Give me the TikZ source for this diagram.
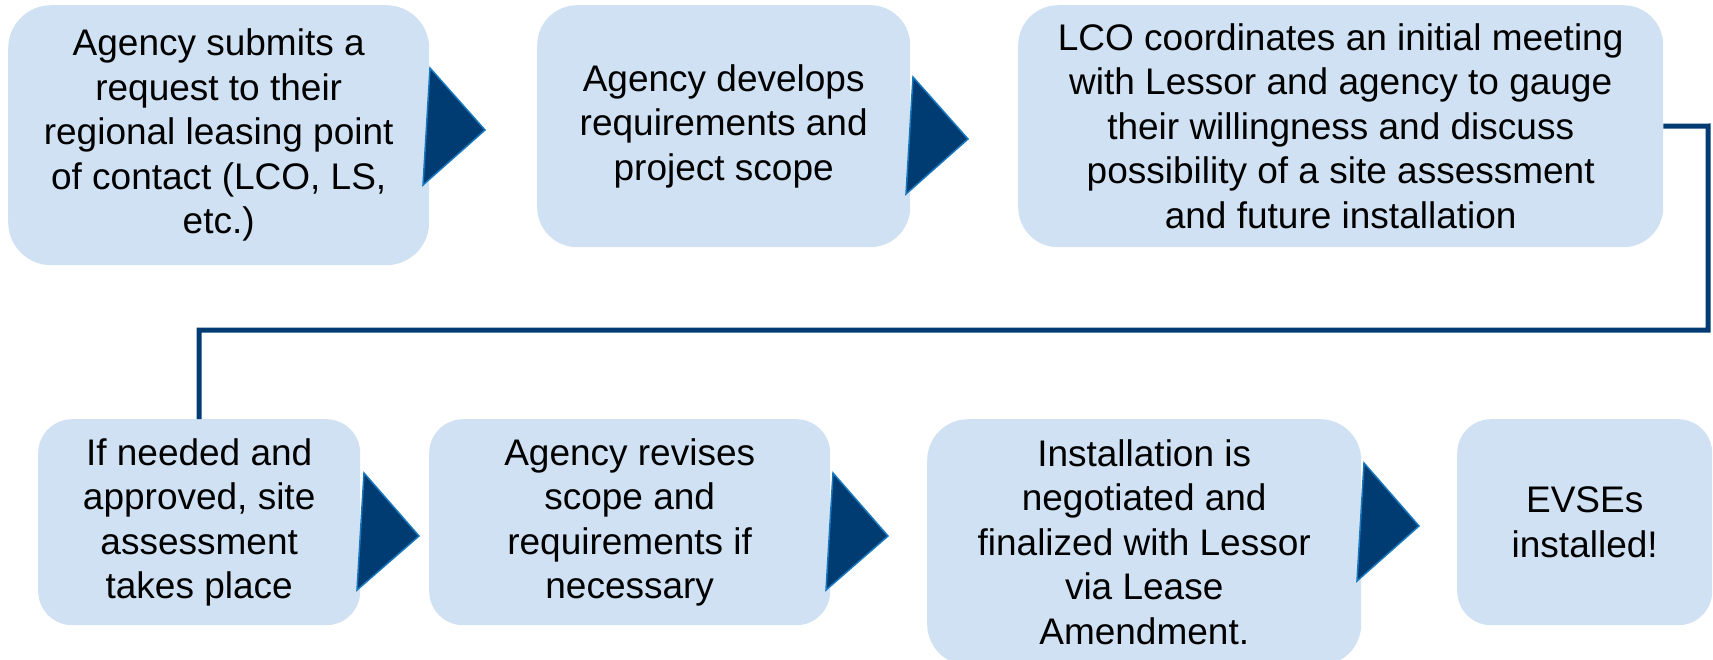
\documentclass[tikz,border=0pt]{standalone}
\usepackage{fontspec}
\setmainfont{Liberation Sans}
\definecolor{boxfill}{RGB}{207,225,242}
\definecolor{navy}{RGB}{0,60,113}
\definecolor{edgeblue}{RGB}{24,120,190}

\begin{document}
\begin{tikzpicture}[x=1pt,y=-1pt,
  stepbox/.style={fill=boxfill, draw=none, align=center, inner sep=0pt,
    anchor=north west, font=\fontsize{37}{44.5}\selectfont},
  chevron/.style={fill=navy, draw=edgeblue, line width=1.5pt, line join=miter},
  flowline/.style={draw=navy, line width=5pt, line join=miter}]

  \useasboundingbox (0,0) rectangle (1713,659);
  \clip (0,0) rectangle (1713,659);

  % first row of steps
  \node[stepbox, minimum width=421pt, minimum height=260pt, rounded corners=43pt] (b1) at (8,5)
    {Agency submits a\\request to their\\regional leasing point\\of contact (LCO, LS,\\etc.)};
  \node[stepbox, minimum width=373pt, minimum height=242pt, rounded corners=40pt] (b2) at (537,5)
    {Agency develops\\requirements and\\project scope};
  \node[stepbox, minimum width=645pt, minimum height=242pt, rounded corners=40pt] (b3) at (1018,5)
    {LCO coordinates an initial meeting\\with Lessor and agency to gauge\\their willingness and discuss\\possibility of a site assessment\\and future installation};

  % second row of steps
  \node[stepbox, minimum width=322pt, minimum height=206pt, rounded corners=34pt] (b4) at (38,419)
    {If needed and\\approved, site\\assessment\\takes place};
  \node[stepbox, minimum width=401pt, minimum height=206pt, rounded corners=34pt] (b5) at (429,419)
    {Agency revises\\scope and\\requirements if\\necessary};
  \node[stepbox, minimum width=434pt, minimum height=246pt, rounded corners=41pt] (b6) at (927,419)
    {Installation is\\negotiated and\\finalized with Lessor\\via Lease\\Amendment.};
  \node[stepbox, minimum width=255pt, minimum height=206pt, rounded corners=34pt] (b7) at (1457,419)
    {EVSEs\\installed!};

  % chevrons between consecutive steps
  \draw[chevron] (430,68) -- (485,130) -- (423,185) -- cycle;
  \draw[chevron] (913,77) -- (968,139) -- (906,194) -- cycle;
  \draw[chevron] (364,473) -- (419,536) -- (357,590) -- cycle;
  \draw[chevron] (833,473) -- (888,536) -- (826,590) -- cycle;
  \draw[chevron] (1364,463) -- (1419,526) -- (1357,581) -- cycle;

  % line carrying the flow from the first row to the second
  \coordinate (r1) at (1708,126);
  \coordinate (r2) at (1708,330);
  \draw[flowline] (b3.east) -- (r1) -- (r2) -- (b4.north |- r2) -- (b4.north);
\end{tikzpicture}
\end{document}
